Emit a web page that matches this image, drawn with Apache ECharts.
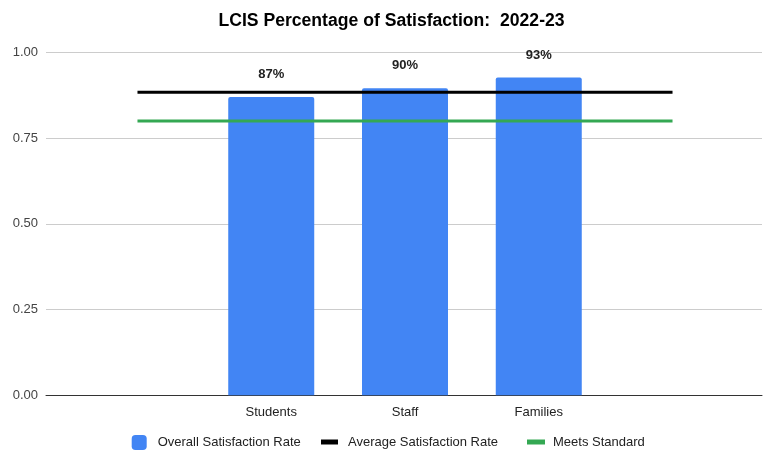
<!DOCTYPE html>
<html>
<head>
<meta charset="utf-8">
<script src="https://cdn.jsdelivr.net/npm/echarts@6/dist/echarts.min.js"></script>
<style>
html,body{margin:0;padding:0;background:#fff;}
#chart{width:769px;height:451px;}
</style>
</head>
<body>
<div id="chart"></div>
<script>
var titleText = 'LCIS Percentage of Satisfaction:  2022-23';
var categories = ['', 'Students', 'Staff', 'Families', ''];
var satisfactionRate = [null, 0.87, 0.896, 0.927, null];
var averageRate = [0.884, 0.884, 0.884, 0.884, 0.884];
var meetsStandard = [0.80, 0.80, 0.80, 0.80, 0.80];
var yTicks = [0, 0.25, 0.5, 0.75, 1];

var FONT = '"Liberation Sans", Arial, sans-serif';
var chart = echarts.init(document.getElementById('chart'), null, {renderer: 'canvas'});
var top0 = 52.5, bottom0 = 55.7;

chart.setOption({
  backgroundColor: '#ffffff',
  animation: false,
  textStyle: {fontFamily: FONT},
  title: {
    text: titleText,
    left: 386.5,
    textAlign: 'center',
    top: 7,
    textStyle: {fontFamily: FONT, fontSize: 17.6, fontWeight: 'bold', color: '#000'}
  },
  legend: [
    {data: ['Overall Satisfaction Rate'], left: 131.7, top: 435, padding: 0,
     icon: 'roundRect', itemWidth: 15, itemHeight: 15,
     textStyle: {fontFamily: FONT, fontSize: 13, color: '#222', padding: [0, 0, 0, 6]}},
    {data: ['Average Satisfaction Rate'], left: 321, top: 435.5, padding: 0,
     icon: 'rect', itemWidth: 17, itemHeight: 5,
     textStyle: {fontFamily: FONT, fontSize: 13, color: '#222', padding: [0, 0, 0, 5]}},
    {data: ['Meets Standard'], left: 527, top: 435.5, padding: 0,
     icon: 'rect', itemWidth: 18, itemHeight: 5,
     textStyle: {fontFamily: FONT, fontSize: 13, color: '#222', padding: [0, 0, 0, 3]}}
  ],
  grid: [
    {left: 46, right: 7, top: top0, bottom: bottom0, containLabel: false},
    {left: 70.6, right: 29.6, top: top0, bottom: bottom0, containLabel: false}
  ],
  xAxis: [
    {gridIndex: 0, type: 'value', min: 0, max: 1,
     axisLine: {show: true, lineStyle: {color: '#333', width: 1}},
     axisTick: {show: false}, axisLabel: {show: false}, splitLine: {show: false}},
    {gridIndex: 1, type: 'category', data: categories, boundaryGap: true,
     axisLine: {show: false}, axisTick: {show: false},
     axisLabel: {fontFamily: FONT, fontSize: 13, color: '#222', margin: 10.5, interval: 0}}
  ],
  yAxis: [
    {gridIndex: 0, type: 'value', min: yTicks[0], max: yTicks[yTicks.length - 1], interval: 0.25,
     axisLine: {show: false}, axisTick: {show: false},
     axisLabel: {fontFamily: FONT, fontSize: 13, color: '#444', margin: 8,
       formatter: function (v) { return v.toFixed(2); }},
     splitLine: {show: true, lineStyle: {color: '#cccccc', width: 1}}},
    {gridIndex: 1, type: 'value', min: 0, max: 1, show: false, splitLine: {show: false}}
  ],
  series: [
    {name: 'Overall Satisfaction Rate', type: 'bar', xAxisIndex: 1, yAxisIndex: 1,
     data: satisfactionRate, barWidth: 86,
     itemStyle: {color: '#4285f4', borderRadius: [2, 2, 0, 0]},
     label: {show: true, position: 'top', distance: 16,
       fontFamily: FONT, fontSize: 13, fontWeight: 'bold', color: '#222',
       formatter: function (p) { return Math.round(p.value * 100) + '%'; }}},
    {name: 'Average Satisfaction Rate', type: 'line', xAxisIndex: 1, yAxisIndex: 1,
     data: averageRate, symbol: 'none', z: 5,
     itemStyle: {color: '#000000'}, lineStyle: {color: '#000000', width: 3}},
    {name: 'Meets Standard', type: 'line', xAxisIndex: 1, yAxisIndex: 1,
     data: meetsStandard, symbol: 'none', z: 5,
     itemStyle: {color: '#34a853'}, lineStyle: {color: '#34a853', width: 3}}
  ]
});
</script>
</body>
</html>
